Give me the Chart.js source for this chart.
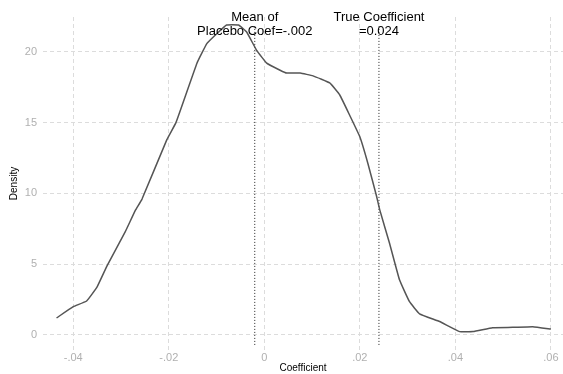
<!DOCTYPE html>
<html>
<head>
<meta charset="utf-8">
<script src="https://cdn.jsdelivr.net/npm/chart.js@4"></script>
<style>
  html, body { margin: 0; padding: 0; background: #fff; }
  canvas { display: block; }
</style>
</head>
<body>
<canvas id="c" width="563" height="374"></canvas>
<script>
// density of placebo coefficients
const coefX = [-0.0435, -0.0400, -0.0372, -0.0350, -0.0329, -0.0291, -0.0270, -0.0256, -0.0204,
  -0.0185, -0.0141, -0.0120, -0.0099, -0.0079, -0.0054, -0.0037, -0.0016, 0.0005, 0.0033,
  0.0047, 0.0075, 0.0102, 0.0137, 0.0158, 0.0179, 0.0200, 0.0217, 0.0235, 0.0242, 0.0262,
  0.0283, 0.0304, 0.0325, 0.0367, 0.0409, 0.0437, 0.0478, 0.0520, 0.0562, 0.0600];
const density = [1.2, 2.0, 2.4, 3.4, 4.9, 7.3, 8.8, 9.6, 13.8,
  15.0, 19.2, 20.6, 21.3, 21.9, 21.9, 21.4, 20.1, 19.2, 18.7,
  18.5, 18.5, 18.3, 17.8, 16.95, 15.5, 14.0, 12.1, 9.8, 8.8, 6.5,
  3.9, 2.35, 1.5, 0.95, 0.24, 0.24, 0.52, 0.54, 0.59, 0.42];

const placeboMean = -0.002;
const trueCoef = 0.024;
const refLabels = [
  ["Mean of", "Placebo Coef=-.002"],
  ["True Coefficient", "=0.024"]
];

const xTicks = [-0.04, -0.02, 0, 0.02, 0.04, 0.06];
const xTickLabels = ["-.04", "-.02", "0", ".02", ".04", ".06"];
const yTicks = [0, 5, 10, 15, 20];
const yTickLabels = ["0", "5", "10", "15", "20"];

const refLine = (x) => [{ x: x, y: -0.7 }, { x: x, y: 21.8 }];

const refText = {
  id: "refText",
  afterDatasetsDraw(chart) {
    const { ctx, scales } = chart;
    ctx.save();
    ctx.font = "13px 'Liberation Sans', Arial, sans-serif";
    ctx.fillStyle = "#000";
    ctx.textAlign = "center";
    ctx.textBaseline = "middle";
    [placeboMean, trueCoef].forEach((v, i) => {
      const px = scales.x.getPixelForValue(v);
      ctx.fillText(refLabels[i][0], px, 17);
      ctx.fillText(refLabels[i][1], px, 31);
    });
    ctx.restore();
  }
};

const gridStyle = { color: "#dcdcdc", lineWidth: 1, drawTicks: false };

new Chart(document.getElementById("c"), {
  type: "scatter",
  data: {
    datasets: [
      {
        data: coefX.map((x, i) => ({ x: x, y: density[i] })),
        showLine: true,
        borderColor: "#555",
        borderWidth: 1.5,
        pointRadius: 0,
        tension: 0.1
      },
      {
        data: refLine(placeboMean),
        showLine: true,
        borderColor: "#222",
        borderWidth: 1,
        borderDash: [1, 2],
        pointRadius: 0
      },
      {
        data: refLine(trueCoef),
        showLine: true,
        borderColor: "#222",
        borderWidth: 1,
        borderDash: [1, 2],
        pointRadius: 0
      }
    ]
  },
  options: {
    responsive: false,
    animation: false,
    layout: { padding: { top: 17, right: 0, left: 0, bottom: 0 } },
    plugins: { legend: { display: false }, tooltip: { enabled: false } },
    scales: {
      x: {
        type: "linear",
        min: -0.04633,
        max: 0.06253,
        border: { display: false, dash: [4, 3] },
        grid: gridStyle,
        afterBuildTicks(s) { s.ticks = xTicks.map(v => ({ value: v })); },
        afterFit(s) { s.height = 24; },
        ticks: {
          color: "#b0b0b0",
          padding: 1,
          maxRotation: 0,
          font: { family: "'Liberation Sans', Arial, sans-serif", size: 11 },
          callback: (v) => xTickLabels[xTicks.indexOf(v)]
        },
        title: {
          display: true,
          text: "Coefficient",
          color: "#000",
          padding: { top: 0, bottom: 0 },
          font: { family: "'Liberation Sans', Arial, sans-serif", size: 10 }
        }
      },
      y: {
        min: -1.06,
        max: 22.46,
        border: { display: false, dash: [4, 3] },
        grid: gridStyle,
        afterBuildTicks(s) { s.ticks = yTicks.map(v => ({ value: v })); },
        afterFit(s) { s.width = 43; },
        ticks: {
          color: "#b0b0b0",
          padding: 6,
          font: { family: "'Liberation Sans', Arial, sans-serif", size: 11 },
          callback: (v) => yTickLabels[yTicks.indexOf(v)]
        },
        title: {
          display: true,
          text: "Density",
          color: "#000",
          padding: { top: 8, bottom: 0 },
          font: { family: "'Liberation Sans', Arial, sans-serif", size: 10 }
        }
      }
    }
  },
  plugins: [refText]
});
</script>
</body>
</html>
